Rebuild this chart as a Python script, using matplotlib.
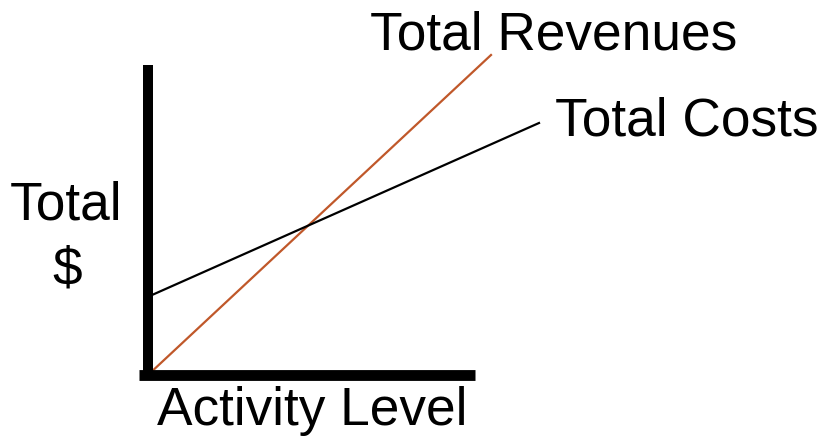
import matplotlib.pyplot as plt

# break-even chart data (arbitrary units)
activity_rev = [0, 85.75]
total_revenues = [0, 80]
activity_cost = [1, 97.75]
total_costs = [20, 63]

W, H = 822, 438
fig = plt.figure(figsize=(W / 100, H / 100), dpi=100)

# axes origin at pixel (148, 375), 4 px per unit
ax = fig.add_axes([148 / W, (H - 375) / H, 400 / W, 320 / H])
ax.set_xlim(0, 100)
ax.set_ylim(0, 80)

ax.plot(activity_rev, total_revenues, color='#c0582a', lw=1.6, clip_on=False)
ax.plot(activity_cost, total_costs, color='black', lw=1.6, clip_on=False)

for side in ['top', 'right']:
    ax.spines[side].set_visible(False)
ax.spines['left'].set_linewidth(7.2)
ax.spines['bottom'].set_linewidth(7.8)
ax.spines['left'].set_bounds(-1, 77.5)
ax.spines['bottom'].set_bounds(-2.3, 81.75)
for s in ['left', 'bottom']:
    ax.spines[s].set_capstyle('butt')
ax.set_xticks([])
ax.set_yticks([])
ax.patch.set_visible(False)

font = dict(family='Liberation Sans', fontsize=38.3, color='black')
fig.text(370 / W, 1 - 49 / H, 'Total Revenues', ha='left', va='baseline', **font)
fig.text(555 / W, 1 - 136 / H, 'Total Costs', ha='left', va='baseline', **font)
fig.text(66 / W, 1 - 220 / H, 'Total', ha='center', va='baseline', **font)
fig.text(67 / W, 1 - 284 / H, '$', ha='center', va='baseline', **font)
fig.text(157 / W, 1 - 425 / H, 'Activity Level', ha='left', va='baseline', **font)

fig.savefig('out.png', dpi=100)
